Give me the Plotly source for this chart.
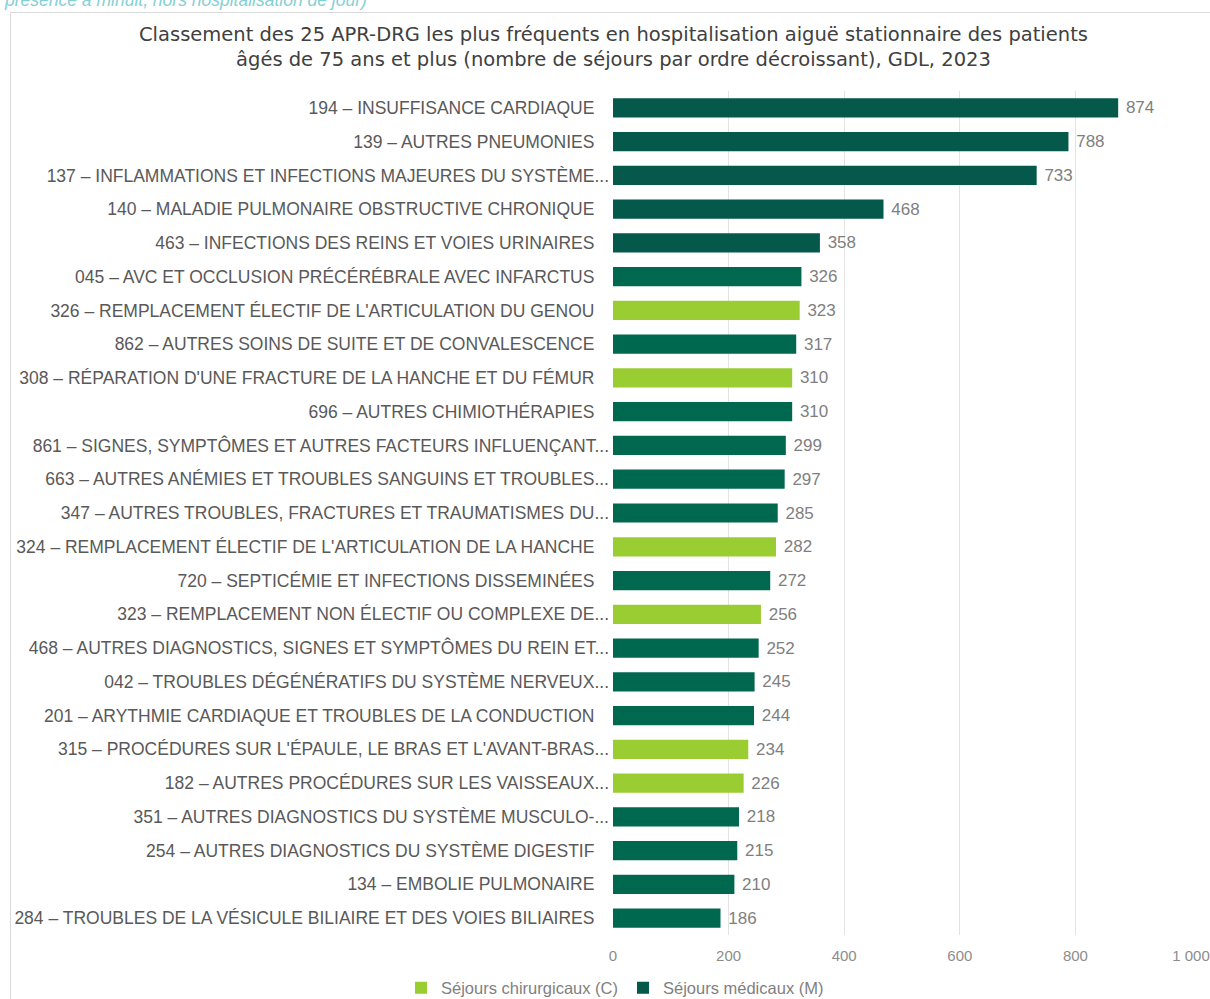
import plotly.graph_objects as go

# Top 25 APR-DRG, patients aged 75+, GDL 2023 (ranked by number of stays)
labels = [
    "194 – INSUFFISANCE CARDIAQUE",
    "139 – AUTRES PNEUMONIES",
    "137 – INFLAMMATIONS ET INFECTIONS MAJEURES DU SYSTÈME...",
    "140 – MALADIE PULMONAIRE OBSTRUCTIVE CHRONIQUE",
    "463 – INFECTIONS DES REINS ET VOIES URINAIRES",
    "045 – AVC ET OCCLUSION PRÉCÉRÉBRALE AVEC INFARCTUS",
    "326 – REMPLACEMENT ÉLECTIF DE L'ARTICULATION DU GENOU",
    "862 – AUTRES SOINS DE SUITE ET DE CONVALESCENCE",
    "308 – RÉPARATION D'UNE FRACTURE DE LA HANCHE ET DU FÉMUR",
    "696 – AUTRES CHIMIOTHÉRAPIES",
    "861 – SIGNES, SYMPTÔMES ET AUTRES FACTEURS INFLUENÇANT...",
    "663 – AUTRES ANÉMIES ET TROUBLES SANGUINS ET TROUBLES...",
    "347 – AUTRES TROUBLES, FRACTURES ET TRAUMATISMES DU...",
    "324 – REMPLACEMENT ÉLECTIF DE L'ARTICULATION DE LA HANCHE",
    "720 – SEPTICÉMIE ET INFECTIONS DISSEMINÉES",
    "323 – REMPLACEMENT NON ÉLECTIF OU COMPLEXE DE...",
    "468 – AUTRES DIAGNOSTICS, SIGNES ET SYMPTÔMES DU REIN ET...",
    "042 – TROUBLES DÉGÉNÉRATIFS DU SYSTÈME NERVEUX...",
    "201 – ARYTHMIE CARDIAQUE ET TROUBLES DE LA CONDUCTION",
    "315 – PROCÉDURES SUR L'ÉPAULE, LE BRAS ET L'AVANT-BRAS...",
    "182 – AUTRES PROCÉDURES SUR LES VAISSEAUX...",
    "351 – AUTRES DIAGNOSTICS DU SYSTÈME MUSCULO-...",
    "254 – AUTRES DIAGNOSTICS DU SYSTÈME DIGESTIF",
    "134 – EMBOLIE PULMONAIRE",
    "284 – TROUBLES DE LA VÉSICULE BILIAIRE ET DES VOIES BILIAIRES",
]
stays = [874, 788, 733, 468, 358, 326, 323, 317, 310, 310, 299, 297, 285,
         282, 272, 256, 252, 245, 244, 234, 226, 218, 215, 210, 186]
# C = séjours chirurgicaux, M = séjours médicaux
stay_type = ["M", "M", "M", "M", "M", "M", "C", "M", "C", "M", "M", "M", "M",
             "C", "M", "C", "M", "M", "M", "C", "C", "M", "M", "M", "M"]

series_names = {"C": "Séjours chirurgicaux (C)", "M": "Séjours médicaux (M)"}

COL_C = "#9ACD32"
COL_M = "#00684F"
COL_M_TOP = "#04594A"

FONT = "Liberation Sans, Arial, sans-serif"
TITLE_FONT = "DejaVu Sans, Liberation Sans, sans-serif"
GREY = "#7F7F7F"

# plot area geometry (pixels)
W, H = 1210, 999
X0, X1 = 613, 1191
Y_TOP, Y_BOT = 91, 935


def px_x(p):
    return (p - X0) / (X1 - X0)


def px_y(p):
    return (Y_BOT - p) / (Y_BOT - Y_TOP)


# truncated labels end with "...", the others keep the same right edge for their text
ticktext = [l if l.endswith("...") else l + "\u00a0\u00a0\u00a0" for l in labels]

fig = go.Figure()
for key, base_col in (("C", COL_C), ("M", COL_M)):
    idx = [i for i, t in enumerate(stay_type) if t == key]
    cols = []
    for i in idx:
        if key == "M" and i < 5:
            cols.append(COL_M_TOP)
        else:
            cols.append(base_col)
    fig.add_trace(go.Bar(
        name=series_names[key],
        orientation="h",
        y=[labels[i] for i in idx],
        x=[stays[i] for i in idx],
        text=["\u00a0" + str(stays[i]) for i in idx],
        textposition="outside",
        textfont=dict(family=FONT, size=17, color=GREY),
        cliponaxis=False,
        marker=dict(color=cols, line=dict(width=0)),
        width=0.57,
    ))

fig.update_layout(
    width=W, height=H,
    margin=dict(l=X0, r=W - X1, t=Y_TOP, b=H - Y_BOT, pad=0, autoexpand=False),
    paper_bgcolor="white", plot_bgcolor="white",
    barmode="overlay",
    separators=", ",
    font=dict(family=FONT, color="#595959"),
    showlegend=True,
    legend=dict(
        orientation="h", xref="container", yref="container",
        x=615 / W, y=1 - 988 / H,
        xanchor="center", yanchor="middle",
        font=dict(family=FONT, size=16.5, color=GREY),
        itemwidth=30, traceorder="normal",
    ),
    xaxis=dict(
        range=[0, 1000], dtick=200, showgrid=True, gridcolor="#E3E3E3", gridwidth=1,
        zeroline=False, showline=False, ticks="", automargin=False,
        separatethousands=True,
        tickfont=dict(family=FONT, size=15, color="#8C8C8C"),
        ticklabelstandoff=10,
    ),
    yaxis=dict(
        type="category", categoryorder="array", categoryarray=labels,
        tickmode="array", tickvals=labels, ticktext=ticktext,
        autorange="reversed", automargin=False,
        showgrid=False, zeroline=False, showline=False, ticks="",
        tickfont=dict(family=FONT, size=17.5, color="#595959"),
        ticklabelstandoff=3,
    ),
)

fig.add_annotation(
    text="Classement des 25 APR-DRG les plus fréquents en hospitalisation aiguë stationnaire des patients"
         "<br>âgés de 75 ans et plus (nombre de séjours par ordre décroissant), GDL, 2023",
    xref="paper", yref="paper", x=px_x(613), y=px_y(46.5),
    xanchor="center", yanchor="middle", showarrow=False,
    font=dict(family=TITLE_FONT, size=19.5, color="#404040"),
)

fig.add_annotation(
    text="<i>présence à minuit, hors hospitalisation de jour)</i>",
    xref="paper", yref="paper", x=px_x(2), y=px_y(0.5),
    xanchor="left", yanchor="middle", showarrow=False,
    font=dict(family=FONT, size=17.5, color="#85D0D4"),
)

# chart frame
fig.add_shape(type="line", xref="paper", yref="paper",
              x0=px_x(10.5), x1=px_x(10.5), y0=px_y(12.5), y1=px_y(1010),
              line=dict(color="#D9D9D9", width=1))
fig.add_shape(type="line", xref="paper", yref="paper",
              x0=px_x(10.5), x1=px_x(1220), y0=px_y(12.5), y1=px_y(12.5),
              line=dict(color="#D9D9D9", width=1))

fig.write_html("out.html")
